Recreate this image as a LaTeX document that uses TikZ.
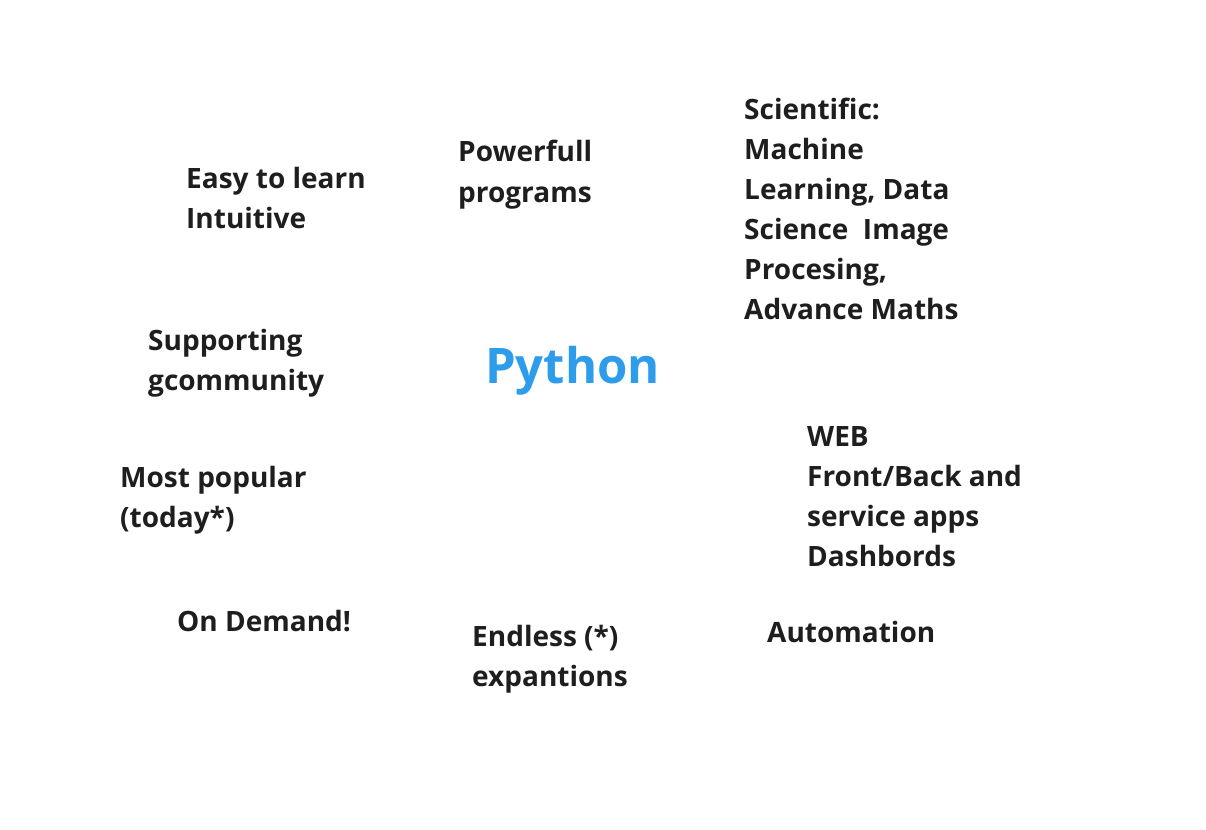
\documentclass[tikz,border=0pt]{standalone}
\usepackage{fontspec}
\setmainfont{Open Sans}
\usepackage{tikz}
\usetikzlibrary{positioning}
\definecolor{inkdark}{HTML}{1E1E1E}
\definecolor{pyblue}{HTML}{2D9CEB}

\begin{document}
\begin{tikzpicture}[
  x=1pt, y=-1pt,
  item/.style={anchor=base west, align=left, inner sep=0pt, text=inkdark, font=\fontsize{28}{40}\selectfont\bfseries},
  hub/.style={anchor=base west, inner sep=0pt, text=pyblue, font=\fontsize{49}{55}\selectfont\bfseries}
]
  \useasboundingbox (0,0) rectangle (1206,829);
  % anchors sit on the last line of each block
  \node[hub] (python) at (485,383) {Python};

  \node[item] (easy) at (186,228) {Easy to learn\\Intuitive};
  \node[item] (powerful) at (458,202) {Powerfull\\programs};
  \node[item] (scientific) at (744,319) {Scientific:\\Machine\\Learning, Data\\Science~ Image\\Procesing,\\Advance Maths};
  \node[item] (community) at (148,390) {Supporting\\gcommunity};
  \node[item] (web) at (807,566) {WEB\\Front/Back and\\service apps\\Dashbords};
  \node[item] (popular) at (120,527) {Most popular\\(today*)};
  \node[item] (demand) at (177,631) {On Demand!};
  \node[item] (endless) at (472,686) {Endless (*)\\expantions};
  \node[item] (automation) at (767,642) {Automation};
\end{tikzpicture}
\end{document}
